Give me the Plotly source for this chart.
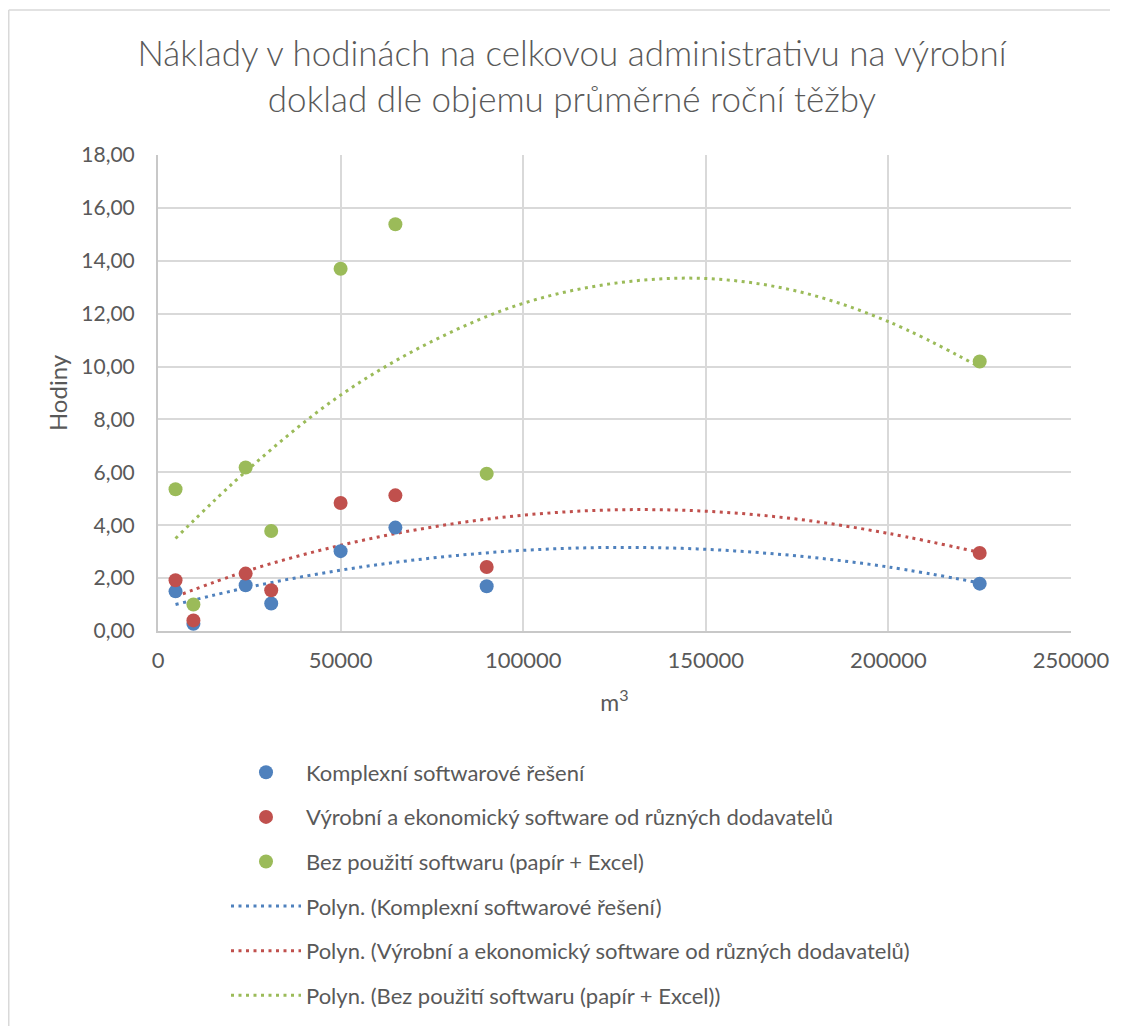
import plotly.graph_objects as go

# ---- data ----
x_vals = [4800, 9700, 24000, 31000, 50000, 65000, 90000, 225000]
komplexni = [1.50, 0.27, 1.73, 1.04, 3.02, 3.91, 1.69, 1.79]
vyrobni = [1.92, 0.40, 2.17, 1.54, 4.84, 5.13, 2.42, 2.95]
bez_sw = [5.36, 1.00, 6.18, 3.78, 13.70, 15.38, 5.95, 10.19]

trend_x = [4800, 25000, 50000, 75000, 100000, 125000, 150000, 175000, 200000, 225000]
trend_komplexni = [1.00, 1.66, 2.30, 2.76, 3.05, 3.16, 3.09, 2.84, 2.42, 1.82]
trend_vyrobni = [1.30, 2.30, 3.24, 3.93, 4.38, 4.58, 4.53, 4.23, 3.69, 2.97]
trend_bez_sw = [3.50, 6.15, 8.92, 10.95, 12.39, 13.15, 13.33, 12.85, 11.70, 9.98]

series_names = [
    "Komplexní softwarové řešení",
    "Výrobní a ekonomický software od různých dodavatelů",
    "Bez použití softwaru (papír + Excel)",
]
colors = ["#4F81BD", "#C0504D", "#9BBB59"]

title_text = "Náklady v hodinách na celkovou administrativu na výrobní<br>doklad dle objemu průměrné roční těžby"
x_title = "m<sup>3</sup>"
y_title = "Hodiny"

# page body adds an 8px margin, so the figure is 8px smaller than the window
W, H = 1116, 1018
ML, MR, MT, MB = 150, 53, 147, 395
FONT = "Lato"
TXT = "#595959"

fig = go.Figure()

point_sets = [komplexni, vyrobni, bez_sw]
trend_sets = [trend_komplexni, trend_vyrobni, trend_bez_sw]

for i, (name, col, ty) in enumerate(zip(series_names, colors, trend_sets)):
    fig.add_trace(go.Scatter(
        x=trend_x, y=ty, mode="lines",
        line=dict(color=col, width=3, dash="3px,4.5px", shape="spline", smoothing=1),
        name=f"Polyn. ({name})", legendgroup=f"t{i}", legendrank=4 + i,
        hoverinfo="skip",
    ))

for i, (name, col, py) in enumerate(zip(series_names, colors, point_sets)):
    fig.add_trace(go.Scatter(
        x=x_vals, y=py, mode="markers",
        marker=dict(color=col, size=14, line=dict(width=0)),
        name=name, legendgroup=f"m{i}", legendrank=1 + i,
    ))

pw = W - ML - MR
ph = H - MT - MB
def px2paper_x(px):
    return (px - ML) / pw
def py2paper_y(py):
    return (H - MB - py) / ph

fig.update_layout(
    width=W, height=H,
    margin=dict(l=ML, r=MR, t=MT, b=MB, pad=0),
    paper_bgcolor="white", plot_bgcolor="white",
    separators=", ",
    font=dict(family=FONT, color=TXT, size=20),
    title=dict(text=title_text, x=564 / W, xanchor="center", xref="container",
               y=1 - 58 / H, yanchor="top", yref="container",
               font=dict(family=FONT, size=35, color=TXT, weight=300)),
    xaxis=dict(range=[0, 250000], dtick=50000, tickformat="d",
               showgrid=True, gridcolor="#D9D9D9", gridwidth=1.5,
               showline=True, linecolor="#C8C8C8", linewidth=2, zeroline=False,
               ticks="", ticklabelstandoff=9,
               tickfont=dict(family=FONT, size=22, color=TXT),
               title=dict(text=x_title, font=dict(family=FONT, size=23, color=TXT), standoff=22)),
    yaxis=dict(range=[0, 18], dtick=2, tickformat=".2f",
               showgrid=True, gridcolor="#D9D9D9", gridwidth=1.5,
               showline=True, linecolor="#C8C8C8", linewidth=2, zeroline=False,
               ticks="", ticklabelstandoff=17,
               tickfont=dict(family=FONT, size=21, color=TXT),
               title=dict(text=y_title, font=dict(family=FONT, size=24, color=TXT), standoff=7)),
    legend=dict(x=px2paper_x(218), xanchor="left",
                y=1 - 743.5 / H, yref="container", yanchor="top",
                font=dict(family=FONT, size=22, color=TXT),
                itemwidth=70, tracegroupgap=13, bgcolor="rgba(0,0,0,0)"),
    showlegend=True,
    shapes=[
        dict(type="line", xref="paper", yref="paper", x0=px2paper_x(0.75), x1=px2paper_x(1102),
             y0=py2paper_y(2), y1=py2paper_y(2), line=dict(color="#D9D9D9", width=1.5)),
        dict(type="line", xref="paper", yref="paper", x0=px2paper_x(0.75), x1=px2paper_x(0.75),
             y0=py2paper_y(2), y1=py2paper_y(H), line=dict(color="#D9D9D9", width=1.5)),
    ],
)

fig.write_html("out.html")
